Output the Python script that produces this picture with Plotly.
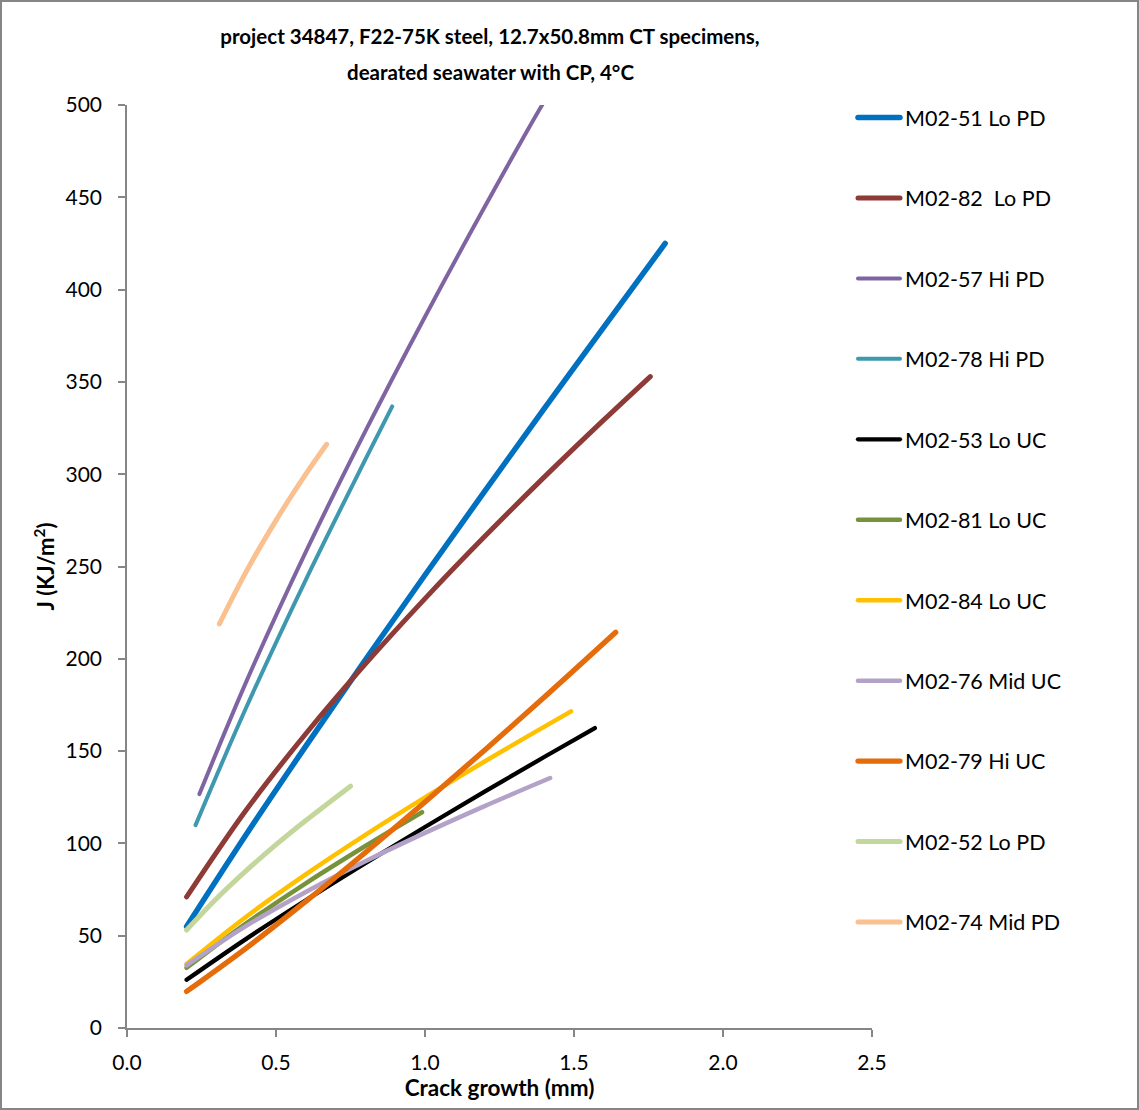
import plotly.graph_objects as go

# ---- data ----
names = ["M02-51 Lo PD", "M02-82  Lo PD", "M02-57 Hi PD", "M02-78 Hi PD",
         "M02-53 Lo UC", "M02-81 Lo UC", "M02-84 Lo UC", "M02-76 Mid UC",
         "M02-79 Hi UC", "M02-52 Lo PD", "M02-74 Mid PD"]

x_5151 = [0.2, 0.4, 0.6, 0.8, 1.0, 1.2, 1.4, 1.6, 1.806]
y_5151 = [55, 104.8, 152.7, 199.5, 245.4, 290.7, 335.5, 379.7, 425]

x_5282 = [0.2, 0.4, 0.6, 0.8, 1.0, 1.2, 1.4, 1.6, 1.756]
y_5282 = [71, 118.1, 159.4, 197.2, 232.6, 266.2, 298.4, 329.4, 352.9]

x_5257 = [0.243, 0.4, 0.6, 0.8, 1.0, 1.2, 1.393, 1.42]
y_5257 = [126.7, 187.5, 257.9, 323.3, 385.3, 444.7, 500, 507]

x_5278 = [0.23, 0.4, 0.6, 0.8, 0.89]
y_5278 = [109.9, 173.6, 242.8, 308.0, 336.7]

x_5253 = [0.2, 0.4, 0.6, 0.8, 1.0, 1.2, 1.4, 1.57]
y_5253 = [26.1, 48.3, 69.2, 89.3, 108.9, 128.0, 146.8, 162.5]

x_5281 = [0.2, 0.4, 0.6, 0.8, 0.99]
y_5281 = [32.6, 56.7, 78.4, 98.6, 116.9]

x_5284 = [0.2, 0.4, 0.6, 0.8, 1.0, 1.2, 1.49]
y_5284 = [34.7, 60.3, 83.2, 104.6, 124.9, 144.4, 171.5]

x_5276 = [0.2, 0.4, 0.6, 0.8, 1.0, 1.2, 1.42]
y_5276 = [33.9, 55.3, 73.7, 90.3, 105.7, 120.2, 135.4]

x_5279 = [0.2, 0.4, 0.6, 0.8, 1.0, 1.2, 1.4, 1.64]
y_5279 = [19.8, 43.3, 68.6, 95.1, 122.4, 150.5, 179.2, 214.4]

x_5252 = [0.2, 0.3, 0.4, 0.5, 0.6, 0.75]
y_5252 = [53.1, 70.0, 85.2, 99.3, 112.4, 131.0]

x_5274 = [0.31, 0.4, 0.5, 0.6, 0.67]
y_5274 = [218.9, 247.2, 275.0, 300.0, 316.2]

xs = [x_5151, x_5282, x_5257, x_5278, x_5253, x_5281, x_5284, x_5276, x_5279, x_5252, x_5274]
ys = [y_5151, y_5282, y_5257, y_5278, y_5253, y_5281, y_5284, y_5276, y_5279, y_5252, y_5274]

title_line1 = "project 34847, F22-75K steel, 12.7x50.8mm CT specimens,"
title_line2 = "dearated seawater with CP, 4°C"
x_title = "Crack growth (mm)"
y_title = "J (KJ/m<sup>2</sup>)"

# ---- styles ----
colors = ["#0070C0", "#8E3A36", "#8064A2", "#3E98AF", "#000000", "#77923C",
          "#FFC000", "#B3A2C8", "#E46C0A", "#C3D69B", "#FAC090"]
widths = [5.5, 5, 4, 4, 4.3, 4.5, 4.5, 4.5, 5.3, 5, 5]

W, H = 1139, 1110
L, R, T, B = 127, 267, 105, 82
font_family = "Lato, 'Open Sans', sans-serif"
pw = W - L - R
ph = H - T - B

fig = go.Figure()
for i in range(len(names)):
    fig.add_trace(go.Scatter(
        x=xs[i], y=ys[i], name=names[i], mode="lines",
        line=dict(color=colors[i], width=widths[i], shape="spline", smoothing=1.0),
        legendgroup=str(i)))

fig.update_layout(
    width=W, height=H,
    margin=dict(l=L, r=R, t=T, b=B),
    paper_bgcolor="white", plot_bgcolor="white",
    font=dict(family=font_family, size=21, color="#000000"),
    showlegend=True,
    title=dict(text="<b>" + title_line1 + "</b>",
               x=(490 - L) / pw, xref="paper", xanchor="center",
               y=1 - 37 / H, yref="container", yanchor="middle",
               font=dict(size=20.5, family=font_family, color="#000000")),
    legend=dict(x=(853 - L) / pw, xanchor="left", y=1.0 + 8 / ph, yanchor="top",
                font=dict(size=21.5, family=font_family, color="#000000"),
                tracegroupgap=49.5, bgcolor="rgba(0,0,0,0)", itemwidth=42,
                traceorder="grouped", maxheight=1100),
    xaxis=dict(range=[0, 2.5], dtick=0.5, tick0=0, tickformat=".1f",
               showgrid=False, zeroline=False, showline=True,
               linecolor="#868686", linewidth=1.5, ticks="outside",
               ticklen=7, tickcolor="#868686", tickwidth=1.5,
               tickfont=dict(size=21), ticklabelstandoff=8,
               title=dict(text="<b>" + x_title + "</b>", font=dict(size=22.5), standoff=7)),
    yaxis=dict(range=[0, 500], dtick=50, tick0=0,
               showgrid=False, zeroline=False, showline=True,
               linecolor="#868686", linewidth=1.5, ticks="outside",
               ticklen=7, tickcolor="#868686", tickwidth=1.5,
               tickfont=dict(size=21), ticklabelstandoff=12,
               title=dict(text="<b>" + y_title + "</b>", font=dict(size=22), standoff=5)),
)

fig.add_annotation(text="<b>" + title_line2 + "</b>", xref="paper", yref="paper",
                   x=(490 - L) / pw, y=1 + (T - 72) / ph, xanchor="center", yanchor="middle",
                   showarrow=False, font=dict(size=20.5, family=font_family, color="#000000"))

# outer chart border
fig.add_shape(type="rect", xref="paper", yref="paper",
              x0=(1 - L) / pw, x1=(W - 1 - L) / pw,
              y0=-(B - 1) / ph, y1=1 + (T - 1) / ph,
              line=dict(color="#868686", width=2), fillcolor="rgba(0,0,0,0)", layer="below")

post = (
    "document.body.style.margin='0px';"
    "document.querySelectorAll('path.js-line').forEach(function(p){p.style.strokeLinecap='round';});"
)
fig.write_html("out.html", config={"displayModeBar": False}, post_script=post)
